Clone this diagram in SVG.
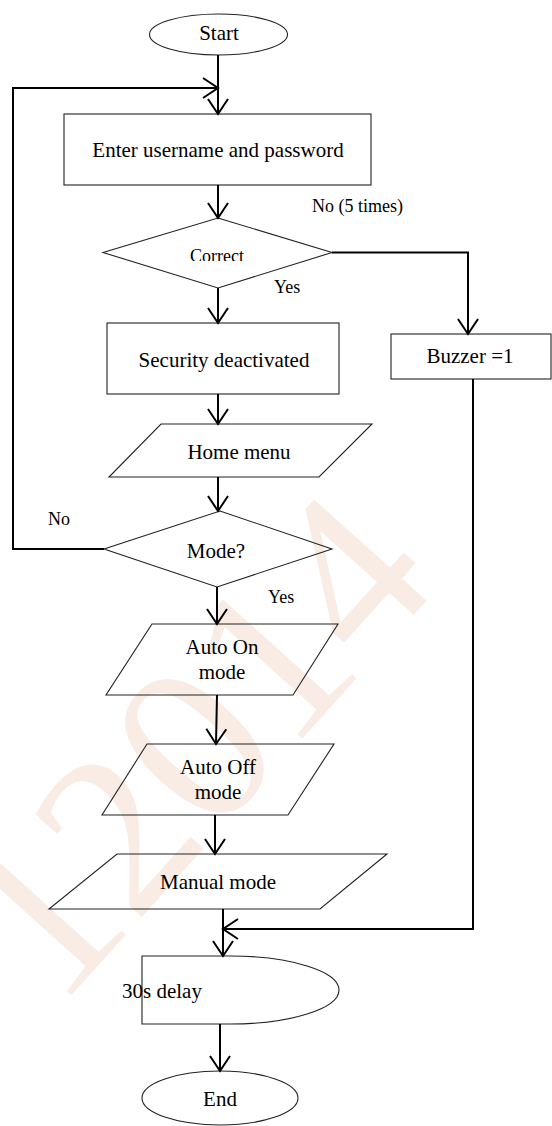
<svg xmlns="http://www.w3.org/2000/svg" width="552" height="1126" viewBox="0 0 552 1126">
<style>
.wm{font-family:"Liberation Serif","Times New Roman",serif;font-size:230px;fill:#f9ece5}
.shape{fill:none;stroke:#222;stroke-width:1.1}
.t{font-family:"Liberation Serif","Times New Roman",serif;font-size:21px;fill:#000;text-anchor:middle}
.s{font-family:"Liberation Serif","Times New Roman",serif;font-size:18px;fill:#000}
.c{fill:none;stroke:#000;stroke-width:2}
</style>
<defs>
<marker id="ah" markerUnits="userSpaceOnUse" markerWidth="24" markerHeight="24" refX="0" refY="0" viewBox="-17 -12 19 24" orient="auto" overflow="visible">
<path d="M-15,-10 L0,0 L-15,10" fill="none" stroke="#000" stroke-width="2"/>
</marker>
<clipPath id="clipCorrect"><rect x="150" y="230" width="140" height="31"/></clipPath>
</defs>
<rect width="552" height="1126" fill="#fff"/>
<text class="wm" transform="translate(58,1010) rotate(-48)">12014</text>

<g id="start"><ellipse class="shape" cx="218.5" cy="34.5" rx="69" ry="20.5"/><text class="t" x="219" y="40">Start</text></g>
<g id="enter"><rect class="shape" x="64" y="114" width="307" height="71"/><text class="t" x="218" y="157">Enter username and password</text></g>
<g id="correct"><polygon class="shape" points="218,218 332,252.5 218,288 103,252.5"/><text class="s" x="217" y="262" text-anchor="middle" clip-path="url(#clipCorrect)">Correct</text></g>
<g id="security"><rect class="shape" x="107" y="323" width="232" height="71"/><text class="t" x="224" y="367">Security deactivated</text></g>
<g id="buzzer"><rect class="shape" x="391" y="334" width="160" height="45"/><text class="t" x="470" y="363">Buzzer =1</text></g>
<g id="home"><polygon class="shape" points="161,424 372,424 319,477 109,477"/><text class="t" x="239" y="459">Home menu</text></g>
<g id="mode"><polygon class="shape" points="220,511 332,549 217,587 104,549"/><text class="t" x="216" y="558">Mode?</text></g>
<g id="autoon"><polygon class="shape" points="152,624 338,624 293,695 106,695"/><text class="t" x="222" y="654">Auto On</text><text class="t" x="222" y="679">mode</text></g>
<g id="autooff"><polygon class="shape" points="147,744 334,744 288,815 102,815"/><text class="t" x="218" y="774">Auto Off</text><text class="t" x="218" y="799">mode</text></g>
<g id="manual"><polygon class="shape" points="117,854 387,854 320,909 49,909"/><text class="t" x="218" y="889">Manual mode</text></g>
<g id="delay"><path class="shape" d="M142,956 L230,956 A109,34 0 0 1 230,1024 L142,1024 Z"/><text class="t" x="162" y="998" text-anchor="start">30s delay</text></g>
<g id="end"><ellipse class="shape" cx="220" cy="1098" rx="78" ry="27"/><text class="t" x="220" y="1106">End</text></g>

<g id="connectors">
<line class="c" x1="218" y1="55" x2="218" y2="114" marker-end="url(#ah)"/>
<polyline class="c" points="104,549 13,549 13,88 218,88" marker-end="url(#ah)"/>
<line class="c" x1="218" y1="185" x2="218" y2="218" marker-end="url(#ah)"/>
<polyline class="c" points="332,252.5 468,252.5 468,334" marker-end="url(#ah)"/>
<line class="c" x1="218" y1="288" x2="218" y2="323" marker-end="url(#ah)"/>
<line class="c" x1="218" y1="394" x2="218" y2="424" marker-end="url(#ah)"/>
<line class="c" x1="218" y1="477" x2="218" y2="511" marker-end="url(#ah)"/>
<line class="c" x1="217" y1="587" x2="217" y2="624" marker-end="url(#ah)"/>
<line class="c" x1="217" y1="695" x2="216" y2="744" marker-end="url(#ah)"/>
<line class="c" x1="215" y1="815" x2="215" y2="854" marker-end="url(#ah)"/>
<line class="c" x1="223" y1="909" x2="223" y2="956" marker-end="url(#ah)"/>
<polyline class="c" points="473,379 473,929 223,929" marker-end="url(#ah)"/>
<line class="c" x1="220" y1="1024" x2="220" y2="1071" marker-end="url(#ah)"/>
</g>
<g id="labels">
<text class="s" x="312" y="212">No (5 times)</text>
<text class="s" x="274" y="293">Yes</text>
<text class="s" x="48" y="525" font-size="20">No</text>
<text class="s" x="268" y="603" font-size="20">Yes</text>
</g>
</svg>
